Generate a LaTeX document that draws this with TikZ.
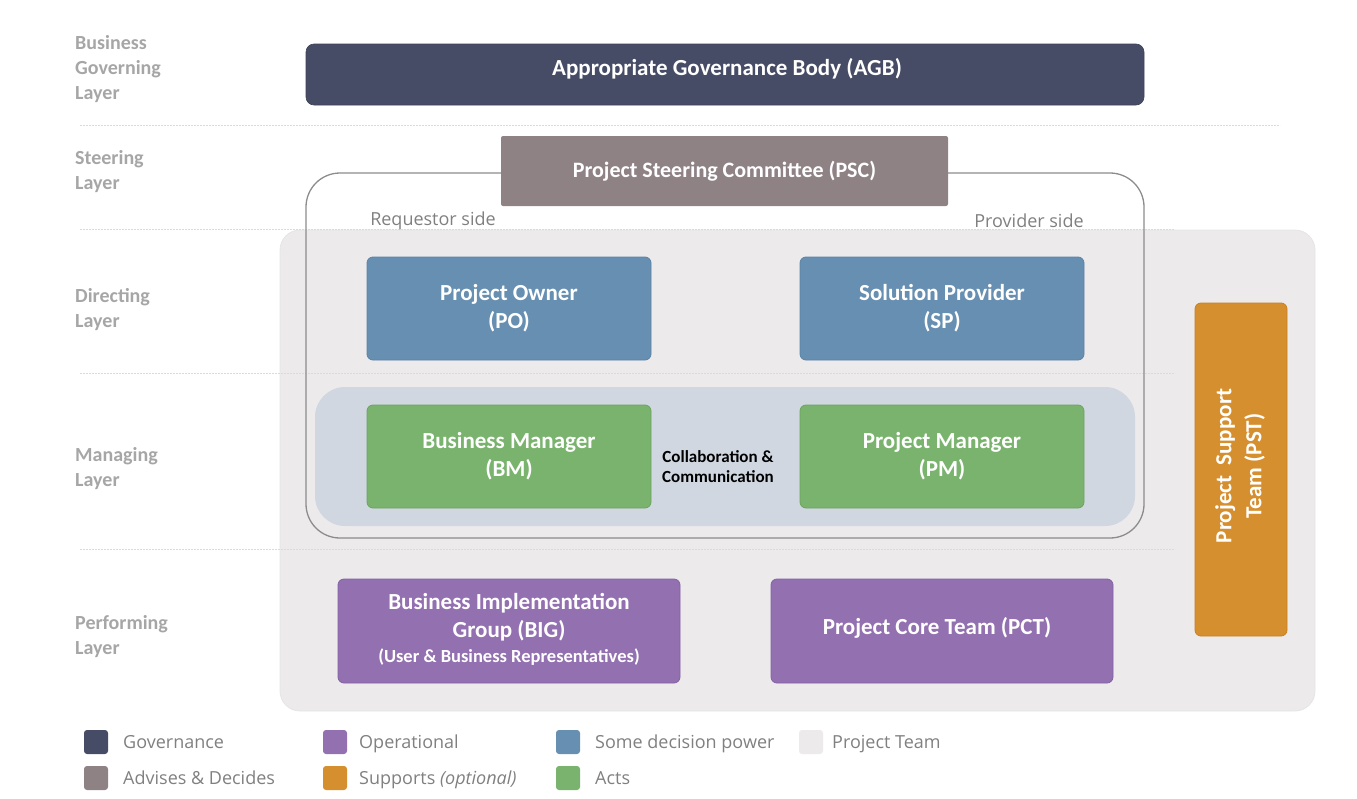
\documentclass[tikz,border=0pt]{standalone}
\usepackage{fontspec}
\setmainfont{Carlito}
\newfontfamily\legfont{Open Sans}
\definecolor{cgov}{HTML}{474C66}
\definecolor{cadv}{HTML}{8E8285}
\definecolor{cblue}{HTML}{668FB1}
\definecolor{cblueb}{HTML}{5B83A5}
\definecolor{cgreen}{HTML}{7AB36E}
\definecolor{cgreenb}{HTML}{6BA35F}
\definecolor{cpurple}{HTML}{9370B0}
\definecolor{cpurpleb}{HTML}{8361A2}
\definecolor{corange}{HTML}{D68F2E}
\definecolor{corangeb}{HTML}{C7811F}
\definecolor{cteam}{HTML}{ECEAEB}
\definecolor{cmanage}{HTML}{D0D7E1}
\definecolor{clayer}{HTML}{A6A6A6}
\definecolor{clegtext}{HTML}{808080}
\definecolor{csep}{HTML}{DADADA}
\definecolor{coutline}{HTML}{8C8C8C}
\begin{document}
\begin{tikzpicture}[x=1pt,y=-1pt,
  box/.style={rectangle, inner sep=0pt, align=center, text=white,
    font=\fontsize{23}{28}\selectfont\bfseries},
  boxtxt/.style={inner sep=0pt, align=center, text=white,
    font=\fontsize{23}{28}\selectfont\bfseries},
  layerlbl/.style={anchor=west, align=left, inner sep=0pt, text=clayer,
    font=\fontsize{20}{25}\selectfont\bfseries},
  sep/.style={draw=csep, line width=0.8pt, dash pattern=on 2pt off 1pt},
  legsq/.style={rectangle, rounded corners=3pt, minimum width=24pt, minimum height=24pt, inner sep=0pt},
  legtxt/.style={anchor=west, inner sep=0pt, text=clegtext, text height=13pt, text depth=4pt,
    font=\legfont\fontsize{18}{21}\selectfont},
  sidetxt/.style={inner sep=0pt, text=clegtext, font=\legfont\fontsize{18}{21}\selectfont}
]
\useasboundingbox (0,0) rectangle (1357,798);

% project team background
\node[rectangle, rounded corners=20pt, fill=cteam, draw=white!90!black, line width=0.8pt,
  minimum width=1035pt, minimum height=481pt] (team) at (797.5,470.5) {};

% separators
\coordinate (s1a) at (80,125); \coordinate (s1b) at (1280,125);
\coordinate (s2a) at (80,229); \coordinate (s2b) at (1175,229);
\coordinate (s3a) at (80,373); \coordinate (s3b) at (1175,373);
\coordinate (s4a) at (80,549); \coordinate (s4b) at (1175,549);
\draw[sep] (s1a) -- (s1b);
\draw[sep] (s2a) -- (s2b);
\draw[sep] (s3a) -- (s3b);
\draw[sep] (s4a) -- (s4b);

% managing background
\node[rectangle, rounded corners=30pt, fill=cmanage, minimum width=820pt, minimum height=139pt] (manage) at (725,456.5) {};

% outline
\node[rectangle, rounded corners=34pt, draw=coutline, line width=1.3pt,
  minimum width=838pt, minimum height=365pt] (outline) at (725,355.5) {};

% governance
\node[box, rounded corners=8pt, fill=cgov, draw=cgov!85!black, line width=0.6pt,
  minimum width=838pt, minimum height=61pt] (agb) at (725,74.5) {};
\node[boxtxt] (agbtxt) at (727,69) {Appropriate Governance Body (AGB)};

% steering
\node[box, rounded corners=2pt, fill=cadv, minimum width=447pt, minimum height=70pt,
  font=\fontsize{22}{28}\selectfont\bfseries] (psc) at (724.5,171) {Project Steering Committee (PSC)};

\node[sidetxt] (req) at (433,221) {Requestor side};
\node[sidetxt] (prov) at (1029,221) {Provider side};

% directing
\node[box, rounded corners=6pt, fill=cblue, draw=cblueb, line width=0.8pt,
  minimum width=284pt, minimum height=103pt] (po) at (509,308.5) {Project Owner\\(PO)};
\node[box, rounded corners=6pt, fill=cblue, draw=cblueb, line width=0.8pt,
  minimum width=284pt, minimum height=103pt] (sp) at (942,308.5) {Solution Provider\\(SP)};

% managing
\node[box, rounded corners=6pt, fill=cgreen, draw=cgreenb, line width=0.8pt,
  minimum width=284pt, minimum height=103pt] (bm) at (509,456.5) {Business Manager\\(BM)};
\node[box, rounded corners=6pt, fill=cgreen, draw=cgreenb, line width=0.8pt,
  minimum width=284pt, minimum height=103pt] (pm) at (942,456.5) {Project Manager\\(PM)};
\node[align=center, inner sep=0pt, font=\fontsize{17}{20}\selectfont\bfseries] (collab) at (718,467) {Collaboration \&\\Communication};

% performing
\node[box, rounded corners=6pt, fill=cpurple, draw=cpurpleb, line width=0.8pt,
  minimum width=342pt, minimum height=104pt] (big) at (509,631) {};
\node[boxtxt] (bigtxt) at (509,629) {Business Implementation\\Group (BIG)\\[-3pt]{\fontsize{18.5}{22}\selectfont(User \& Business Representatives)}};
\node[box, rounded corners=6pt, fill=cpurple, draw=cpurpleb, line width=0.8pt,
  minimum width=342pt, minimum height=104pt] (pct) at (942,631) {};
\node[boxtxt] (pcttxt) at (937,628) {Project Core Team (PCT)};

% support
\node[box, rounded corners=6pt, fill=corange, draw=corangeb, line width=0.8pt,
  minimum width=92pt, minimum height=333pt] (pst) at (1241,469.5) {};
\node[boxtxt, rotate=90, font=\fontsize{23}{30}\selectfont\bfseries] (psttxt) at (1240,466) {Project\ \ Support\\Team (PST)};

% layer labels
\node[layerlbl] (l1) at (75,69) {Business\\Governing\\Layer};
\node[layerlbl] (l2) at (75,171.5) {Steering\\Layer};
\node[layerlbl] (l3) at (75,309.5) {Directing\\Layer};
\node[layerlbl] (l4) at (75,468.5) {Managing\\Layer};
\node[layerlbl] (l5) at (75,636.5) {Performing\\Layer};

% legend
\node[legsq, fill=cgov] (g1) at (96,742) {};
\node[legtxt] (t1) at (123,744) {Governance};
\node[legsq, fill=cadv] (g2) at (96,778) {};
\node[legtxt] (t2) at (123,780) {Advises \& Decides};
\node[legsq, fill=cpurple] (g3) at (335,742) {};
\node[legtxt] (t3) at (359,744) {Operational};
\node[legsq, fill=corange] (g4) at (335,778) {};
\node[legtxt] (t4) at (359,780) {Supports \textit{(optional)}};
\node[legsq, fill=cblue] (g5) at (568,742) {};
\node[legtxt] (t5) at (595,744) {Some decision power};
\node[legsq, fill=cgreen] (g6) at (568,778) {};
\node[legtxt] (t6) at (595,780) {Acts};
\node[legsq, fill=cteam] (g7) at (811,742) {};
\node[legtxt] (t7) at (832,744) {Project Team};
\end{tikzpicture}
\end{document}
